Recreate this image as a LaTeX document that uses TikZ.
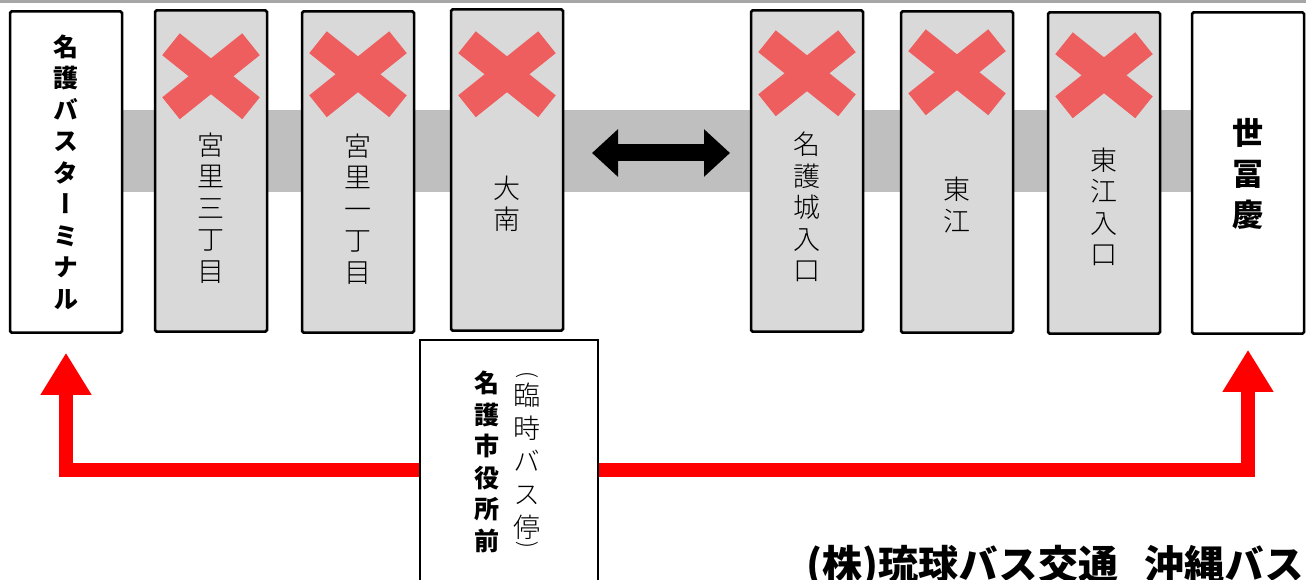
\documentclass[tikz,border=0pt]{standalone}
\usepackage{fontspec}
\setmainfont{Noto Sans CJK JP}
\newfontfamily\jpthin[RawFeature={+vert}]{Noto Sans CJK JP Light}
\newfontfamily\jpheavy[RawFeature={+vert}]{Noto Sans CJK JP Black}
\usetikzlibrary{arrows.meta}
\definecolor{obi}{HTML}{BFBFBF}
\definecolor{hako}{HTML}{D9D9D9}
\definecolor{batsuaka}{HTML}{EE5E5E}
\begin{document}
\begin{tikzpicture}[x=1pt,y=-1pt,
every node/.style={inner sep=0pt},
teiryujo/.style={draw, line width=2.5pt, rounded corners=1.5pt, fill=hako, minimum width=112pt, minimum height=321pt},
shuten/.style={draw, line width=2.5pt, rounded corners=1.5pt, fill=white, minimum width=112pt, minimum height=321pt},
usumoji/.style={align=center, font=\jpthin\fontsize{27}{31.5}\selectfont},
futomoji/.style={align=center, font=\jpheavy\fontsize{25}{31.5}\selectfont},
kakko/.style={font=\jpthin\fontsize{22}{22}\selectfont},
batsu/.style={batsuaka, line width=28pt},
akaya/.style={red, line width=14pt, -{Triangle[width=48pt,length=42pt]}},
nijiya/.style={black, line width=17pt, {Triangle[width=46pt,length=26pt]}-{Triangle[width=46pt,length=26pt]}}
]
\useasboundingbox (0,0) rectangle (1306,580);
\fill[gray!70] (0,0) rectangle (1306,3);
% Obi
\fill[obi] (122,110) rectangle (1192,192);
% Teiryujo
\node[shuten] (terminal) at (66,172) {};
\node[teiryujo] (miyazato3) at (211,171) {};
\node[teiryujo] (miyazato1) at (358,172) {};
\node[teiryujo] (oominami) at (507,170) {};
\node[teiryujo] (nagojo) at (807,171) {};
\node[teiryujo] (agarie) at (957,172) {};
\node[teiryujo] (agarieiri) at (1104,173) {};
\node[shuten] (yofuke) at (1248,173) {};
\node[draw, line width=2pt, fill=white, minimum width=178pt, minimum height=260pt] (shiyakusho) at (509,470) {};
% Batsu
\draw[batsu] ([yshift=-67pt]miyazato3.north) ++(-40,-32) -- ++(80,64) ++(0,-64) -- ++(-80,64);
\draw[batsu] ([yshift=-64pt]miyazato1.north) ++(-40,-32) -- ++(80,64) ++(0,-64) -- ++(-80,64);
\draw[batsu] ([yshift=-66pt]oominami.north) ++(-40,-32) -- ++(80,64) ++(0,-64) -- ++(-80,64);
\draw[batsu] ([yshift=-64pt]nagojo.north) ++(-40,-32) -- ++(80,64) ++(0,-64) -- ++(-80,64);
\draw[batsu] ([yshift=-62pt]agarie.north) ++(-40,-32) -- ++(80,64) ++(0,-64) -- ++(-80,64);
\draw[batsu] ([yshift=-64pt]agarieiri.north) ++(-40,-32) -- ++(80,64) ++(0,-64) -- ++(-80,64);
% Moji
\node[futomoji] (terminal-moji) at (66,172) {名\\護\\バ\\ス\\タ\\ー\\ミ\\ナ\\ル};
\node[usumoji] (miyazato3-moji) at (211,208) {宮\\里\\三\\丁\\目};
\node[usumoji] (miyazato1-moji) at (358,209) {宮\\里\\一\\丁\\目};
\node[usumoji] (oominami-moji) at (507,204) {大\\南};
\node[usumoji] (nagojo-moji) at (807,207) {名\\護\\城\\入\\口};
\node[usumoji] (agarie-moji) at (957,205) {東\\江};
\node[usumoji] (agarieiri-moji) at (1104,207) {東\\江\\入\\口};
\node[futomoji, font=\jpheavy\fontsize{31}{41}\selectfont] (yofuke-moji) at (1248,174) {世\\冨\\慶};
\node[futomoji] (shiyakusho-moji) at (487,462) {名\\護\\市\\役\\所\\前};
\node[usumoji, font=\jpthin\fontsize{27}{33}\selectfont] (rinji-moji) at (527,461) {臨\\時\\バ\\ス\\停};
\node[kakko] (rinji-hiraki) at (527,375) {\rotatebox{-90}{(}};
\node[kakko] (rinji-toji) at (527,545) {\rotatebox{-90}{)}};
\node[anchor=west, font=\jpheavy\fontsize{40}{46}\selectfont] (kaisha) at (806,566) {(株)琉球バス交通\hspace{26pt}沖縄バス};
% Yajirushi
\coordinate (nijiya-l) at (592,153);
\coordinate (nijiya-r) at (730,153);
\draw[nijiya] (nijiya-l) -- (nijiya-r);
\draw[akaya] (shiyakusho.west) -| ([yshift=-19pt]terminal.south);
\draw[akaya] (shiyakusho.east) -| ([yshift=-15pt]yofuke.south);
\end{tikzpicture}
\end{document}
